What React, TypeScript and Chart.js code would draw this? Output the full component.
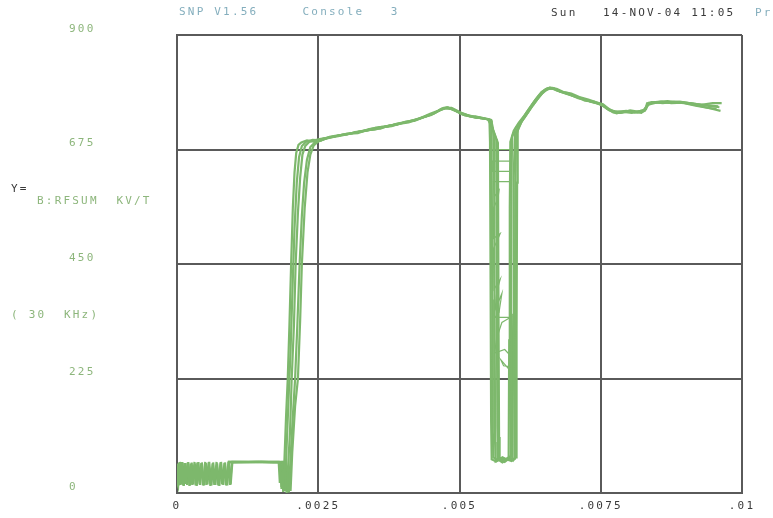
import React, { useEffect, useRef } from "react";
import { Chart, registerables } from "chart.js";

Chart.register(...registerables);

// Axis ticks (seconds on x, KV/T on y)
const X_TICKS = [0, 0.0025, 0.005, 0.0075, 0.01];
const X_TICK_LABELS = ["0", ".0025", ".005", ".0075", ".01"];
const Y_TICKS = [0, 225, 450, 675, 900];
const Y_TICK_LABELS = ["0", "225", "450", "675", "900"];

// Overlaid RF sum sweeps: [time (s), KV/T]
const SWEEP_A: number[][] = [
  [0, 22], [0.00002, 14], [0.00004, 60], [0.00006, 16], [0.00009, 61], [0.00011, 15], [0.00014, 59], [0.00016, 18],
  [0.00019, 60], [0.00022, 14], [0.00024, 58], [0.00027, 16], [0.00031, 61], [0.00033, 15], [0.00036, 60], [0.0004, 17],
  [0.00043, 59], [0.00046, 15], [0.0005, 61], [0.00052, 16], [0.00056, 60], [0.00059, 14], [0.00063, 58], [0.00066, 16],
  [0.0007, 61], [0.00073, 15], [0.00077, 60], [0.0008, 17], [0.00084, 59], [0.00087, 15], [0.00091, 61], [0.00094, 16],
  [0.00097, 60], [0.0014, 61], [0.0018, 61],
  [0.00182, 20], [0.00183, 58], [0.00185, 8], [0.00186, 40], [0.00188, 3], [0.0019, 60], [0.00193, 150], [0.00196, 224],
  [0.00199, 330], [0.00202, 450], [0.00205, 560], [0.00208, 630], [0.00211, 668], [0.00215, 684], [0.0022, 689],
  [0.0023, 693], [0.00245, 690], [0.0026, 697], [0.00275, 699], [0.0029, 702], [0.00305, 706], [0.0032, 707], [0.00335, 713],
  [0.0035, 714], [0.00365, 719], [0.0038, 721], [0.00395, 726], [0.0041, 728], [0.00425, 734], [0.0044, 740], [0.00455, 746],
  [0.00465, 752], [0.00475, 756], [0.00485, 755], [0.00495, 750], [0.00505, 744], [0.00515, 741], [0.00525, 739], [0.00535, 738],
  [0.00545, 736], [0.00553, 734],
  [0.00554, 690], [0.00555, 420], [0.00556, 140], [0.00557, 66], [0.00565, 62], [0.00572, 68], [0.0058, 64], [0.00587, 70],
  [0.00588, 300], [0.00589, 560], [0.0059, 690],
  [0.00596, 712], [0.00605, 728], [0.00615, 742], [0.00625, 758], [0.00635, 774], [0.00645, 788], [0.00655, 795], [0.00665, 796],
  [0.00675, 790], [0.0069, 784], [0.00705, 779], [0.0072, 774], [0.00735, 768], [0.0075, 764], [0.0076, 757], [0.00772, 748],
  [0.00785, 747], [0.008, 750], [0.00815, 748], [0.00828, 751], [0.00832, 766], [0.0085, 768], [0.0087, 767], [0.0089, 769],
  [0.0091, 765], [0.0093, 762], [0.00945, 760], [0.0096, 758],
];

const SWEEP_B: number[][] = [
  [0, 18], [0.00001, 58], [0.00003, 15], [0.00005, 61], [0.00008, 17], [0.0001, 60], [0.00012, 14], [0.00015, 59],
  [0.00018, 16], [0.0002, 61], [0.00023, 15], [0.00026, 60], [0.00029, 17], [0.00032, 58], [0.00035, 14], [0.00038, 61],
  [0.00041, 16], [0.00044, 60], [0.00048, 15], [0.00051, 59], [0.00054, 17], [0.00057, 61], [0.00061, 15], [0.00064, 60],
  [0.00068, 16], [0.00071, 58], [0.00075, 14], [0.00078, 61], [0.00082, 16], [0.00085, 60], [0.00089, 15], [0.00092, 59],
  [0.00095, 17], [0.00098, 61], [0.0015, 61], [0.00183, 60],
  [0.00185, 12], [0.00186, 55], [0.00188, 2], [0.0019, 35], [0.00191, 4], [0.00194, 90], [0.00198, 200], [0.00201, 280],
  [0.00205, 420], [0.00208, 520], [0.00212, 610], [0.00216, 660], [0.00221, 682], [0.00228, 690],
  [0.0024, 694], [0.00255, 693], [0.0027, 700], [0.00285, 703], [0.003, 704], [0.00315, 709], [0.0033, 711], [0.00345, 716],
  [0.0036, 716], [0.00375, 722], [0.0039, 724], [0.00405, 730], [0.0042, 731], [0.00435, 738], [0.0045, 743], [0.0046, 749],
  [0.0047, 754], [0.0048, 757], [0.0049, 752], [0.005, 747], [0.0051, 742], [0.0052, 741], [0.0053, 737], [0.0054, 737],
  [0.0055, 734], [0.00556, 732],
  [0.00557, 650], [0.00558, 380], [0.00559, 120], [0.0056, 70], [0.00568, 64], [0.00576, 70], [0.00584, 66], [0.0059, 72],
  [0.00591, 330], [0.00592, 600], [0.00593, 700],
  [0.006, 718], [0.0061, 733], [0.0062, 750], [0.0063, 766], [0.0064, 780], [0.0065, 791], [0.0066, 797], [0.0067, 793],
  [0.0068, 788], [0.00695, 783], [0.0071, 776], [0.00725, 772], [0.0074, 767], [0.00752, 762], [0.00762, 754], [0.00775, 750],
  [0.0079, 749], [0.00805, 747], [0.0082, 751], [0.0083, 754], [0.00835, 767], [0.00855, 769], [0.00875, 766], [0.00895, 767],
  [0.00915, 763], [0.00935, 758], [0.0095, 754], [0.00962, 751],
];

const SWEEP_C: number[][] = [
  [0.0009, 61], [0.0015, 61], [0.00186, 60], [0.00188, 15], [0.00189, 58], [0.00191, 5], [0.00193, 42], [0.00194, 0],
  [0.00197, 60], [0.002, 120], [0.00203, 224], [0.00207, 330], [0.0021, 450], [0.00214, 550], [0.00218, 620], [0.00222, 665],
  [0.00227, 682], [0.00234, 690],
  [0.0025, 695], [0.00265, 698], [0.0028, 701], [0.00295, 705], [0.0031, 707], [0.00325, 710], [0.0034, 715], [0.00355, 717],
  [0.0037, 720], [0.00385, 724], [0.004, 727], [0.00415, 732], [0.0043, 736], [0.00445, 742], [0.00458, 748], [0.00468, 755],
  [0.00478, 758], [0.00488, 754], [0.00498, 749], [0.00508, 745], [0.00518, 740], [0.00528, 740], [0.00538, 736], [0.00548, 735],
  [0.00556, 733],
  [0.00559, 718], [0.00561, 700], [0.00562, 400], [0.00563, 100], [0.00564, 62], [0.00572, 67], [0.0058, 61], [0.00588, 68],
  [0.00594, 64], [0.00595, 350], [0.00596, 620], [0.00598, 705],
  [0.00606, 724], [0.00616, 739], [0.00626, 756], [0.00636, 771], [0.00646, 785], [0.00656, 794], [0.00668, 795], [0.00678, 789],
  [0.00692, 786], [0.00708, 778], [0.00722, 771], [0.00738, 769], [0.00748, 765], [0.00758, 759], [0.00768, 751], [0.0078, 749],
  [0.00795, 751], [0.0081, 748], [0.00825, 750], [0.00831, 760], [0.0084, 768], [0.0086, 766], [0.0088, 769], [0.009, 767],
  [0.0092, 764], [0.0094, 762], [0.00958, 760],
];

const SWEEP_D: number[][] = [
  [0.0009, 60], [0.0016, 61], [0.00189, 61], [0.00191, 10], [0.00192, 50], [0.00194, 3], [0.00196, 38], [0.00198, 1],
  [0.00201, 70], [0.00205, 150], [0.00209, 224], [0.00213, 330], [0.00217, 450], [0.00221, 545], [0.00225, 610], [0.0023, 655],
  [0.00236, 680], [0.00244, 689],
  [0.00255, 693], [0.0027, 699], [0.00285, 702], [0.003, 706], [0.00315, 708], [0.0033, 712], [0.00345, 714], [0.0036, 719],
  [0.00375, 721], [0.0039, 726], [0.00405, 729], [0.0042, 733], [0.00435, 739], [0.00448, 745], [0.00462, 751], [0.00472, 757],
  [0.00482, 756], [0.00492, 752], [0.00502, 746], [0.00512, 743], [0.00522, 739], [0.00532, 739], [0.00542, 736], [0.0055, 735],
  [0.00556, 722], [0.00562, 705], [0.00565, 695], [0.00566, 420], [0.00567, 130], [0.00568, 66], [0.00576, 60], [0.00584, 66],
  [0.00592, 63], [0.00597, 68], [0.00598, 300], [0.00599, 580], [0.006, 700],
  [0.00604, 716], [0.00612, 735], [0.00622, 750], [0.00632, 768], [0.00642, 782], [0.00652, 793], [0.00662, 796], [0.00672, 791],
  [0.00685, 787], [0.007, 781], [0.00715, 776], [0.0073, 770], [0.00745, 766], [0.00755, 761], [0.00765, 752], [0.00778, 746],
  [0.00792, 750], [0.00808, 749], [0.00822, 747], [0.00829, 756], [0.00836, 766], [0.00858, 769], [0.00878, 768], [0.00898, 766],
  [0.00918, 761], [0.00938, 757], [0.00955, 755],
];

const SWEEP_E: number[][] = [
  [0.0009, 61], [0.0017, 60], [0.00192, 61], [0.00194, 12], [0.00195, 52], [0.00197, 2], [0.00199, 44], [0.00201, 4],
  [0.00204, 80], [0.00209, 170], [0.00214, 224], [0.00218, 340], [0.00221, 450], [0.00226, 560], [0.00231, 630], [0.00236, 665],
  [0.00242, 683], [0.0025, 691],
  [0.00262, 696], [0.00277, 700], [0.00292, 704], [0.00307, 706], [0.00322, 710], [0.00337, 712], [0.00352, 718], [0.00367, 720],
  [0.00382, 723], [0.00397, 727], [0.00412, 730], [0.00427, 735], [0.00442, 741], [0.00456, 747], [0.00466, 753], [0.00476, 757],
  [0.00486, 757], [0.00496, 751], [0.00506, 745], [0.00516, 742], [0.00526, 738], [0.00536, 737], [0.00546, 735], [0.00552, 734],
  [0.0056, 712], [0.00566, 694], [0.00568, 688], [0.00569, 360], [0.0057, 110], [0.00571, 68], [0.0058, 64], [0.00588, 71],
  [0.00596, 65], [0.006, 70], [0.00601, 320], [0.00602, 610], [0.00603, 712],
  [0.0061, 730], [0.0062, 746], [0.0063, 762], [0.0064, 777], [0.0065, 790], [0.0066, 795], [0.00672, 794], [0.00684, 788],
  [0.00698, 785], [0.00712, 778], [0.00728, 773], [0.00742, 768], [0.00754, 764], [0.00764, 755], [0.00776, 748], [0.00788, 748],
  [0.00802, 752], [0.00818, 749], [0.00826, 750], [0.00834, 763], [0.00848, 767], [0.00868, 770], [0.00888, 767], [0.00908, 766],
  [0.00928, 763], [0.00948, 766], [0.00964, 766],
];

// Intermediate samples caught inside the notch
const NOTCH_SAMPLES: number[][] = [
  [0.00557, 675], [0.0059, 675], [0.0059, 652], [0.00558, 652], [0.00558, 632], [0.00591, 632], [0.00591, 612], [0.0056, 612],
  [0.00562, 583], [0.0057, 595], [0.00568, 578], [0.0056, 560], [0.0056, 500], [0.00572, 510], [0.00566, 494], [0.0056, 480],
  [0.00561, 400], [0.00572, 420], [0.00566, 396], [0.00563, 360], [0.00575, 392], [0.0057, 355], [0.00563, 345], [0.0059, 345],
  [0.00575, 335], [0.00566, 305], [0.00562, 275], [0.0058, 282], [0.0059, 270], [0.0059, 240], [0.00573, 262], [0.00578, 250],
  [0.00592, 248],
];

const SWEEPS = [SWEEP_A, SWEEP_B, SWEEP_C, SWEEP_D, SWEEP_E];

const TRACE_COLOR = "#7db86c";
const MONO = '"DejaVu Sans Mono", monospace';

// Header and axis annotations in plotter style
const annotations = {
  id: "plotterText",
  beforeDraw(chart: Chart) {
    (chart.ctx as any).letterSpacing = "2.2px";
  },
  afterDraw(chart: Chart) {
    const ctx = chart.ctx as any;
    ctx.save();
    ctx.letterSpacing = "2.2px";
    ctx.font = `11px ${MONO}`;
    ctx.textBaseline = "middle";
    ctx.textAlign = "left";
    const items: [string, number, number, string][] = [
      ["SNP V1.56     Console   3", 179, 12, "#84aebd"],
      ["Sun", 551, 13, "#3a3a3a"],
      ["14-NOV-04 11:05", 603, 13, "#3a3a3a"],
      ["Pr", 755, 13, "#84aebd"],
      ["Y=", 11, 189, "#3a3a3a"],
      ["B:RFSUM  KV/T", 37, 201, "#8db67c"],
      ["( 30  KHz)", 11, 315, "#8db67c"],
    ];
    for (const [text, x, y, color] of items) {
      ctx.fillStyle = color;
      ctx.fillText(text, x, y);
    }
    ctx.restore();
  },
};

export default function App() {
  const canvasRef = useRef<HTMLCanvasElement | null>(null);

  useEffect(() => {
    const canvas = canvasRef.current;
    if (!canvas) return;
    const datasets: any[] = SWEEPS.map((sweep, i) => ({
      label: `sweep ${i + 1}`,
      data: sweep.map(([x, y]) => ({ x, y })),
      borderColor: TRACE_COLOR,
      borderWidth: 2.2,
      pointRadius: 0,
      showLine: true,
      tension: 0,
    }));
    datasets.push({
      label: "notch",
      data: NOTCH_SAMPLES.map(([x, y]) => ({ x, y })),
      borderColor: TRACE_COLOR,
      borderWidth: 1.2,
      pointRadius: 0,
      showLine: true,
      tension: 0,
    });

    const chart = new Chart(canvas, {
      type: "scatter",
      data: { datasets },
      options: {
        animation: false,
        responsive: false,
        devicePixelRatio: 1,
        layout: { padding: { left: 69, top: 35, right: 31, bottom: 0 } },
        plugins: { legend: { display: false }, tooltip: { enabled: false }, title: { display: false } },
        scales: {
          x: {
            type: "linear",
            min: 0,
            max: 0.01,
            afterBuildTicks: (s: any) => {
              s.ticks = X_TICKS.map((v) => ({ value: v }));
            },
            afterFit: (s: any) => {
              s.height = 25;
            },
            ticks: {
              autoSkip: false,
              maxRotation: 0,
              padding: 7,
              color: "#3a3a3a",
              font: { family: MONO, size: 11 },
              callback: (_v: any, i: number) => X_TICK_LABELS[i],
            },
            grid: { color: "#5a5a5a", lineWidth: 2, drawTicks: false },
            border: { color: "#5a5a5a", width: 2 },
          },
          y: {
            type: "linear",
            min: 0,
            max: 900,
            afterBuildTicks: (s: any) => {
              s.ticks = Y_TICKS.map((v) => ({ value: v }));
            },
            afterFit: (s: any) => {
              s.width = 108;
            },
            ticks: {
              crossAlign: "far",
              labelOffset: -6,
              color: "#8db67c",
              font: { family: MONO, size: 11 },
              callback: (_v: any, i: number) => Y_TICK_LABELS[i],
            },
            grid: { color: "#5a5a5a", lineWidth: 2, drawTicks: false },
            border: { color: "#5a5a5a", width: 2 },
          },
        },
      } as any,
      plugins: [annotations],
    });
    return () => chart.destroy();
  }, []);

  return (
    <div style={{ position: "fixed", left: 0, top: 0, width: 773, height: 518, background: "#fff" }}>
      <canvas ref={canvasRef} width={773} height={518} />
    </div>
  );
}
